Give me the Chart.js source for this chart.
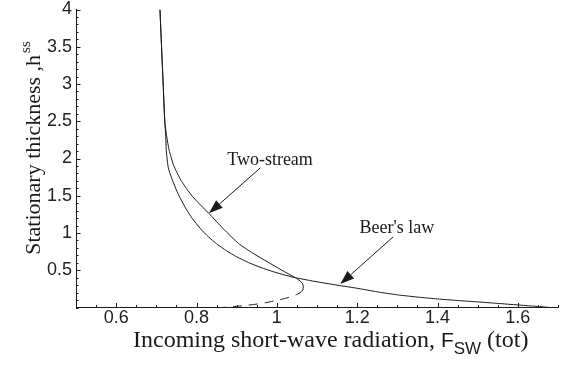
<!DOCTYPE html>
<html><head><meta charset="utf-8">
<script src="https://cdn.jsdelivr.net/npm/chart.js@4"></script>
<style>html,body{margin:0;padding:0;background:#fff}#wrap{width:568px;height:366px}</style>
</head><body><div id="wrap"><canvas id="c" width="568" height="366"></canvas></div>
<script>
// ---- data ----
const twoStreamX = [0.709, 0.713, 0.717, 0.721, 0.726, 0.732, 0.743, 0.761, 0.79, 0.831, 0.868, 0.905, 0.94, 0.976, 1.011, 1.046, 1.058, 1.064, 1.066, 1.065];
const twoStreamH = [4.0, 3.5, 3.0, 2.5, 2.29, 2.11, 1.91, 1.71, 1.49, 1.262, 1.05, 0.858, 0.73, 0.615, 0.505, 0.40, 0.355, 0.32, 0.28, 0.235];
const unstableX = [1.065, 1.058, 1.047, 1.022, 0.997, 0.972, 0.945, 0.919, 0.895, 0.862];
const unstableH = [0.235, 0.2, 0.168, 0.124, 0.092, 0.064, 0.042, 0.026, 0.013, 0.0];
const beerX = [0.709, 0.713, 0.717, 0.721, 0.7235, 0.7246, 0.729, 0.733, 0.74, 0.75, 0.76, 0.775, 0.79, 0.81, 0.83, 0.85, 0.875, 0.9, 0.93, 0.96, 0.99, 1.02, 1.046, 1.1, 1.15, 1.2, 1.25, 1.3, 1.35, 1.4, 1.45, 1.5, 1.55, 1.6, 1.64, 1.68];
const beerH = [4.0, 3.5, 3.0, 2.5, 2.3, 2.12, 1.9, 1.816, 1.71, 1.577, 1.462, 1.315, 1.192, 1.057, 0.947, 0.855, 0.76, 0.681, 0.602, 0.537, 0.482, 0.436, 0.40, 0.345, 0.30, 0.258, 0.21, 0.17, 0.14, 0.115, 0.094, 0.075, 0.055, 0.034, 0.018, 0.0];
const xTickLabels = ['0.6', '0.8', '1', '1.2', '1.4', '1.6'];
const yTickLabels = ['0.5', '1', '1.5', '2', '2.5', '3', '3.5', '4'];
const xTitleParts = ['Incoming short-wave radiation, ', 'F', 'SW', ' (tot)'];
const yTitleParts = ['Stationary thickness ,h', 'ss'];
const noteLabels = ['Two-stream', "Beer's law"];
const noteTextAt = [[0.983, 1.91], [1.299, 1.0]];
const noteArrowFrom = [[0.959, 1.875], [1.29, 0.95]];
const noteArrowTo = [[0.831, 1.264], [1.158, 0.315]];

// ---- chart ----
const pts = (xs, ys) => xs.map((v, i) => ({x: v, y: ys[i]}));
const INK = '#1a1a1a';
const findLabel = (list, v) => { const l = list.find(s => Math.abs(parseFloat(s) - v) < 1e-6); return l === undefined ? '' : l; };

const decor = {
  id: 'decor',
  afterDatasetsDraw(chart) {
    const {ctx, chartArea: a, scales: {x, y}} = chart;
    ctx.save();
    ctx.strokeStyle = INK; ctx.fillStyle = INK; ctx.lineWidth = 1;
    // inward ticks
    x.ticks.forEach(t => {
      const px = Math.round(x.getPixelForValue(t.value)) + 0.5;
      const len = findLabel(xTickLabels, t.value) ? 4.5 : 2.5;
      ctx.beginPath(); ctx.moveTo(px, a.bottom); ctx.lineTo(px, a.bottom - len); ctx.stroke();
    });
    y.ticks.forEach(t => {
      const py = Math.round(y.getPixelForValue(t.value)) + 0.5;
      const len = findLabel(yTickLabels, t.value) ? 4.5 : 2.5;
      ctx.beginPath(); ctx.moveTo(a.left, py); ctx.lineTo(a.left + len, py); ctx.stroke();
    });
    // annotations
    ctx.font = '18px "Liberation Serif"'; ctx.textAlign = 'center'; ctx.textBaseline = 'alphabetic';
    noteLabels.forEach((lab, i) => {
      ctx.fillText(lab, x.getPixelForValue(noteTextAt[i][0]), y.getPixelForValue(noteTextAt[i][1]));
      const x0 = x.getPixelForValue(noteArrowFrom[i][0]), y0 = y.getPixelForValue(noteArrowFrom[i][1]);
      const x1 = x.getPixelForValue(noteArrowTo[i][0]), y1 = y.getPixelForValue(noteArrowTo[i][1]);
      const ang = Math.atan2(y1 - y0, x1 - x0), L = 14, W = 5;
      const bx = x1 - L * Math.cos(ang), by = y1 - L * Math.sin(ang);
      ctx.beginPath(); ctx.moveTo(x0, y0); ctx.lineTo(bx, by); ctx.stroke();
      ctx.beginPath(); ctx.moveTo(x1, y1);
      ctx.lineTo(bx + W * Math.sin(ang), by - W * Math.cos(ang));
      ctx.lineTo(bx - W * Math.sin(ang), by + W * Math.cos(ang));
      ctx.closePath(); ctx.fill();
    });
    // x title
    const fMain = '24px "Liberation Serif"', fF = '21px "Liberation Sans"', fSub = '17px "Liberation Sans"';
    ctx.textAlign = 'left';
    ctx.font = fMain; const w0 = ctx.measureText(xTitleParts[0]).width;
    ctx.font = fF; const w1 = ctx.measureText(xTitleParts[1]).width;
    ctx.font = fSub; const w2 = ctx.measureText(xTitleParts[2]).width;
    let cx = a.left + 57;
    const base = a.bottom + 39;
    ctx.font = fMain; ctx.fillText(xTitleParts[0], cx, base); cx += w0;
    ctx.font = fF; ctx.fillText(xTitleParts[1], cx, base); cx += w1;
    ctx.font = fSub; ctx.fillText(xTitleParts[2], cx, base + 7); cx += w2;
    ctx.font = fMain; ctx.fillText(xTitleParts[3], cx, base);
    // y title
    const yMain = '22px "Liberation Serif"', ySup = '15px "Liberation Serif"';
    ctx.font = yMain; const yw0 = ctx.measureText(yTitleParts[0]).width;
    ctx.font = ySup; const yw1 = ctx.measureText(yTitleParts[1]).width;
    ctx.translate(a.left - 36, (a.top + a.bottom) / 2 - 10.5); ctx.rotate(-Math.PI / 2);
    const sx = -(yw0 + yw1 + 2) / 2;
    ctx.font = yMain; ctx.fillText(yTitleParts[0], sx, 0);
    ctx.font = ySup; ctx.fillText(yTitleParts[1], sx + yw0 + 2, -10);
    ctx.restore();
  }
};

const lineDs = (label, xs, ys, dash) => ({
  label, data: pts(xs, ys), showLine: true, borderColor: INK, borderWidth: 1,
  pointRadius: 0, tension: 0.2, fill: false, borderDash: dash || []
});

new Chart(document.getElementById('c').getContext('2d'), {
  type: 'scatter',
  data: {datasets: [
    lineDs('Two-stream', twoStreamX, twoStreamH),
    lineDs('Two-stream (unstable)', unstableX, unstableH, [9, 7]),
    lineDs("Beer's law", beerX, beerH)
  ]},
  options: {
    responsive: false, animation: false, devicePixelRatio: 1,
    layout: {padding: {left: 0, right: 10, top: 9.5, bottom: 0}},
    plugins: {legend: {display: false}, tooltip: {enabled: false}},
    scales: {
      x: {
        type: 'linear', min: 0.5, max: 1.7,
        afterFit(s) { s.height = 58.5; s.paddingLeft = 0; s.paddingRight = 0; },
        grid: {display: false, drawTicks: false},
        border: {display: true, color: INK, width: 1},
        ticks: {stepSize: 0.05, autoSkip: false, maxRotation: 0, padding: 2, color: '#222',
          font: {family: 'Liberation Sans', size: 18, lineHeight: 1},
          callback: v => findLabel(xTickLabels, v)}
      },
      y: {
        type: 'linear', min: 0, max: 4,
        afterFit(s) { s.width = 76; s.paddingTop = 0; s.paddingBottom = 0; },
        grid: {display: false, drawTicks: false},
        border: {display: true, color: INK, width: 1},
        ticks: {stepSize: 0.1, autoSkip: false, padding: 4, color: '#222',
          font: {family: 'Liberation Sans', size: 18, lineHeight: 1},
          callback: v => findLabel(yTickLabels, v)}
      }
    }
  },
  plugins: [decor]
});
</script>
</body></html>
